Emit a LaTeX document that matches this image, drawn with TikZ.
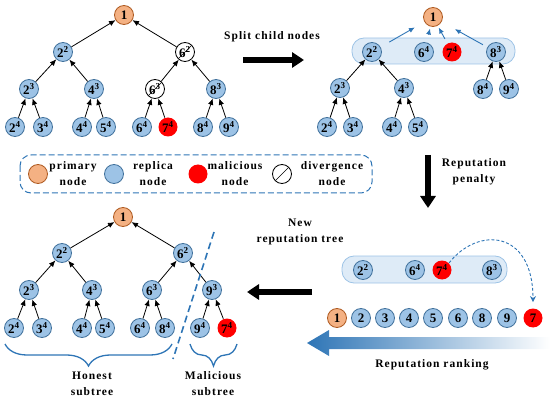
\documentclass[tikz,border=0pt]{standalone}
\usepackage{fontspec}
\setmainfont{Liberation Serif}
\newfontfamily\lblfont[LetterSpace=9]{Liberation Serif}
\usetikzlibrary{arrows.meta,decorations.pathreplacing}
\definecolor{repfill}{HTML}{9DC3E6}
\definecolor{repdraw}{HTML}{41719C}
\definecolor{prifill}{HTML}{F4B183}
\definecolor{pridraw}{HTML}{AE5A21}
\definecolor{malred}{HTML}{FF0000}
\definecolor{bandfill}{HTML}{DEEBF7}
\definecolor{banddraw}{HTML}{9DC3E6}
\definecolor{arrblue}{HTML}{2E75B6}
\begin{document}
\begin{tikzpicture}[x=1pt,y=-1pt,
  nd/.style={circle,minimum size=19pt,inner sep=0pt,font=\bfseries\fontsize{13}{13}\selectfont,line width=0.8pt},
  rep/.style={nd,fill=repfill,draw=repdraw},
  pri/.style={nd,fill=prifill,draw=pridraw},
  mal/.style={nd,fill=malred},
  dvg/.style={nd,fill=white,draw=black,path picture={\draw[black,line width=0.7pt] (path picture bounding box.south west) -- (path picture bounding box.north east);}},
  tedge/.style={-{Latex[length=6.5pt,width=5.5pt]},line width=0.8pt,black},
  bedge/.style={-{Latex[length=6pt,width=5pt]},line width=0.9pt,arrblue},
  band/.style={fill=bandfill,draw=banddraw,line width=0.8pt,rounded corners=12pt},
  lbl/.style={font=\lblfont\bfseries\fontsize{11.5}{16}\selectfont,align=center,inner sep=0pt},
  bigarrow/.style={line width=6pt,-{Triangle[length=12pt,width=15pt]}},
  brc/.style={decorate,decoration={brace,mirror,amplitude=22pt},draw=arrblue,line width=1.3pt}
]
\useasboundingbox (0,0) rectangle (550,404);

% ---------- top-left tree ----------
\node[pri] (a1) at (124,15) {1};
\node[rep] (a22) at (63,52) {2\textsuperscript{2}};
\node[dvg] (a62) at (185,52) {6\textsuperscript{2}};
\node[rep] (a23) at (29,89) {2\textsuperscript{3}};
\node[rep] (a43) at (94,89) {4\textsuperscript{3}};
\node[dvg] (a63) at (155,89) {6\textsuperscript{3}};
\node[rep] (a83) at (216,89) {8\textsuperscript{3}};
\node[rep] (a24) at (15,127) {2\textsuperscript{4}};
\node[rep] (a34) at (43,127) {3\textsuperscript{4}};
\node[rep] (a44) at (82,127) {4\textsuperscript{4}};
\node[rep] (a54) at (106,127) {5\textsuperscript{4}};
\node[rep] (a64) at (142,127) {6\textsuperscript{4}};
\node[mal] (a74) at (168,127) {7\textsuperscript{4}};
\node[rep] (a84) at (203,127) {8\textsuperscript{4}};
\node[rep] (a94) at (229,127) {9\textsuperscript{4}};
\foreach \c/\p in {a22/a1,a62/a1,a23/a22,a43/a22,a63/a62,a83/a62,a24/a23,a34/a23,a44/a43,a54/a43,a64/a63,a74/a63,a84/a83,a94/a83}
  \draw[tedge] (\c) -- (\p);

% ---------- split arrow ----------
\node[lbl] (tsplit) at (272,37) {Split child nodes};
\coordinate (sA) at (243,60);
\coordinate (sB) at (304,60);
\draw[bigarrow] (sA) -- (sB);

% ---------- top-right tree ----------
\draw[band] (352,38) rectangle (515,64);
\node[pri] (b1) at (433,17) {1};
\node[rep] (b22) at (372,52) {2\textsuperscript{2}};
\node[rep] (b64) at (424,52) {6\textsuperscript{4}};
\node[mal] (b74) at (452,52) {7\textsuperscript{4}};
\node[rep] (b83) at (496,52) {8\textsuperscript{3}};
\node[rep] (b23) at (340,88) {2\textsuperscript{3}};
\node[rep] (b43) at (404,88) {4\textsuperscript{3}};
\node[rep] (b84) at (483,89) {8\textsuperscript{4}};
\node[rep] (b94) at (509,89) {9\textsuperscript{4}};
\node[rep] (b24) at (327,127) {2\textsuperscript{4}};
\node[rep] (b34) at (353,127) {3\textsuperscript{4}};
\node[rep] (b44) at (392,127) {4\textsuperscript{4}};
\node[rep] (b54) at (418,127) {5\textsuperscript{4}};
\foreach \c/\p in {b23/b22,b43/b22,b24/b23,b34/b23,b44/b43,b54/b43,b84/b83,b94/b83}
  \draw[tedge] (\c) -- (\p);
\draw[bedge,shorten <=10pt,shorten >=11pt] (b22) -- (b1);
\draw[bedge,shorten <=8pt,shorten >=2pt] (b64) -- (b1);
\draw[bedge,shorten <=5pt,shorten >=2pt] (b74) -- (b1);
\draw[bedge,shorten <=5pt,shorten >=15pt] (b83) -- (b1);

% ---------- legend ----------
\draw[arrblue,dashed,dash pattern=on 6pt off 3pt,line width=1pt,rounded corners=11pt] (20,155) rectangle (372,193);
\node[pri] (lg1) at (38,174) {};
\node[lbl] (lt1) at (73,174) {primary\\node};
\node[rep] (lg2) at (114,174) {};
\node[lbl] (lt2) at (153,174) {replica\\node};
\node[mal] (lg3) at (198,174) {};
\node[lbl] (lt3) at (235,174) {malicious\\node};
\node[dvg] (lg4) at (282,174) {};
\node[lbl] (lt4) at (332,174) {divergence\\node};

% ---------- reputation penalty ----------
\coordinate (pA) at (428,155);
\coordinate (pB) at (428,208);
\draw[bigarrow] (pA) -- (pB);
\node[lbl] (tpen) at (474,172) {Reputation\\penalty};

% ---------- bottom-right ----------
\draw[band] (342,256) rectangle (507,283);
\node[rep] (d22) at (363,270) {2\textsuperscript{2}};
\node[rep] (d64) at (415,270) {6\textsuperscript{4}};
\node[mal] (d74) at (442,270) {7\textsuperscript{4}};
\node[rep] (d83) at (492,270) {8\textsuperscript{3}};
\node[pri] (r1) at (337,318) {1};
\node[rep] (r2) at (361,318) {2};
\node[rep] (r3) at (385,318) {3};
\node[rep] (r4) at (409,318) {4};
\node[rep] (r5) at (433,318) {5};
\node[rep] (r6) at (458,318) {6};
\node[rep] (r8) at (482,318) {8};
\node[rep] (r9) at (507,318) {9};
\node[mal] (r7) at (533,318) {7};
\draw[arrblue,line width=0.9pt,dashed,dash pattern=on 3pt off 2pt,-{Stealth[length=6pt,width=6pt]},shorten >=6pt]
  (d74.north east) .. controls (478,226) and (533,230) .. (r7.north);

\shade[left color=arrblue,middle color=arrblue!65,right color=white]
  (550,337) -- (329,337) -- (329,330) -- (307,343) -- (329,356) -- (329,349) -- (550,349) -- cycle;
\node[lbl] (trank) at (432,365) {Reputation ranking};

% ---------- new reputation tree arrow ----------
\node[lbl] (tnew) at (300,232) {New\\reputation tree};
\coordinate (nA) at (312,292);
\coordinate (nB) at (247,292);
\draw[bigarrow] (nA) -- (nB);

% ---------- bottom-left tree ----------
\node[pri] (c1) at (123,217) {1};
\node[rep] (c22) at (62,253) {2\textsuperscript{2}};
\node[rep] (c62) at (183,253) {6\textsuperscript{2}};
\node[rep] (c23) at (29,290) {2\textsuperscript{3}};
\node[rep] (c43) at (92,290) {4\textsuperscript{3}};
\node[rep] (c63) at (152,290) {6\textsuperscript{3}};
\node[rep] (c93) at (212,290) {9\textsuperscript{3}};
\node[rep] (c24) at (14,328) {2\textsuperscript{4}};
\node[rep] (c34) at (42,328) {3\textsuperscript{4}};
\node[rep] (c44) at (82,328) {4\textsuperscript{4}};
\node[rep] (c54) at (105,328) {5\textsuperscript{4}};
\node[rep] (c64) at (140,328) {6\textsuperscript{4}};
\node[rep] (c84) at (165,328) {8\textsuperscript{4}};
\node[rep] (c94) at (200,328) {9\textsuperscript{4}};
\node[mal] (c74) at (227,328) {7\textsuperscript{4}};
\foreach \c/\p in {c22/c1,c62/c1,c23/c22,c43/c22,c63/c62,c93/c62,c24/c23,c34/c23,c44/c43,c54/c43,c64/c63,c84/c63,c94/c93,c74/c93}
  \draw[tedge] (\c) -- (\p);
\coordinate (dl1) at (214,232);
\coordinate (dl2) at (173,359);
\draw[arrblue,line width=1.6pt,dashed,dash pattern=on 7pt off 4pt] (dl1) -- (dl2);
\coordinate (hb1) at (5,344);
\coordinate (hb2) at (172,344);
\coordinate (mb1) at (190,344);
\coordinate (mb2) at (237,344);
\draw[brc] (hb1) -- (hb2);
\draw[brc] (mb1) -- (mb2);
\node[lbl] (thon) at (92,384) {Honest\\subtree};
\node[lbl] (tmal) at (213,384) {Malicious\\subtree};
\end{tikzpicture}
\end{document}
